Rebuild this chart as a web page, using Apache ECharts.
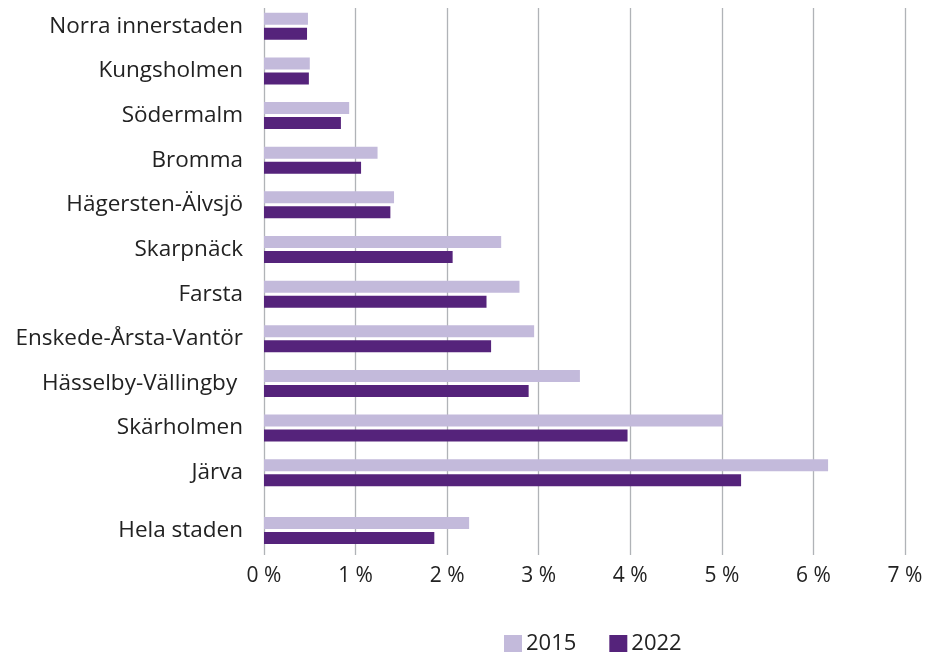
<!DOCTYPE html>
<html>
<head>
<meta charset="utf-8">
<script src="https://cdn.jsdelivr.net/npm/echarts@6/dist/echarts.min.js"></script>
<style>html,body{margin:0;padding:0;background:#fff}#c{width:936px;height:652px}</style>
</head>
<body>
<div id="c"></div>
<script>
const categories = ['Norra innerstaden','Kungsholmen','Södermalm','Bromma','Hägersten-Älvsjö','Skarpnäck','Farsta','Enskede-Årsta-Vantör','Hässelby-Vällingby ','Skärholmen','Järva'];
const values2015 = [0.48,0.50,0.93,1.24,1.42,2.59,2.79,2.95,3.45,5.01,6.16];
const values2022 = [0.47,0.49,0.84,1.06,1.38,2.06,2.43,2.48,2.89,3.97,5.21];
const totalCategory = ['Hela staden'];
const total2015 = [2.24];
const total2022 = [1.86];
const seriesNames = ['2015','2022'];
const tickValues = [0,1,2,3,4,5,6,7];

const FONT = '"Open Sans"';
const C15 = '#C3BADB';
const C22 = '#55237B';
const GRID_C = '#B0B3B7';

const chart = echarts.init(document.getElementById('c'));
const hiddenX = (i) => ({type:'value', gridIndex:i, min:0, max:7, interval:1, show:false});
const catY = (i, data) => ({
  type:'category', gridIndex:i, data:data, inverse:true,
  axisLine:{show:false}, axisTick:{show:false}, splitLine:{show:false},
  axisLabel:{fontFamily:FONT, fontSize:22.5, color:'#222', margin:21}
});
const barBase = {type:'bar', barWidth:12, barGap:'25%', animation:false};

chart.setOption({
  animation:false,
  legend:{
    data:seriesNames, left:499, top:628, itemWidth:18, itemHeight:18, itemGap:33,
    icon:'rect', textStyle:{fontFamily:FONT, fontSize:22, color:'#222', padding:[0,0,0,-1]}
  },
  grid:[
    {left:264, right:31, top:4, height:491},
    {left:264, right:31, top:506, height:49},
    {left:264, right:31, top:8, height:547}
  ],
  xAxis:[
    hiddenX(0), hiddenX(1),
    {type:'value', gridIndex:2, min:tickValues[0], max:tickValues[tickValues.length-1], interval:1,
     axisLine:{show:false}, axisTick:{show:false},
     splitLine:{show:true, lineStyle:{color:GRID_C, width:1.3}},
     axisLabel:{fontFamily:FONT, fontSize:21, color:'#222', margin:11, formatter:(v)=>v+' %'}}
  ],
  yAxis:[
    catY(0, categories), catY(1, totalCategory),
    {type:'value', gridIndex:2, show:false, min:0, max:1}
  ],
  series:[
    Object.assign({}, barBase, {name:seriesNames[0], xAxisIndex:0, yAxisIndex:0, data:values2015, itemStyle:{color:C15}}),
    Object.assign({}, barBase, {name:seriesNames[1], xAxisIndex:0, yAxisIndex:0, data:values2022, itemStyle:{color:C22}}),
    Object.assign({}, barBase, {name:seriesNames[0], xAxisIndex:1, yAxisIndex:1, data:total2015, itemStyle:{color:C15}}),
    Object.assign({}, barBase, {name:seriesNames[1], xAxisIndex:1, yAxisIndex:1, data:total2022, itemStyle:{color:C22}})
  ]
});
</script>
</body>
</html>
